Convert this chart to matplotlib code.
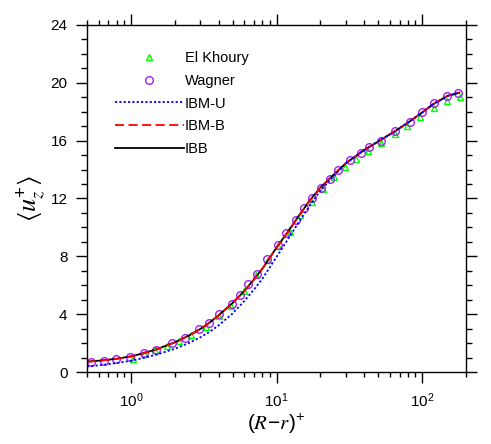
import numpy as np
import matplotlib
matplotlib.use('Agg')
import matplotlib.pyplot as plt
from matplotlib.ticker import LogLocator, MultipleLocator

plt.rcParams['font.family'] = ['Liberation Sans', 'DejaVu Sans']
plt.rcParams['mathtext.fontset'] = 'stix'
plt.rcParams['mathtext.default'] = 'regular'

# El Khoury et al. (DNS)
khoury_y = [1.04, 1.235, 1.47, 1.77, 2.15, 2.59, 3.29, 4.06, 4.84, 5.98, 7.27, 8.78, 10.25,
            12.36, 14.5, 17.4, 20.8, 24.9, 29.6, 35.1, 42.2, 52.4, 65.4, 78.8, 97.3, 120,
            148.5, 180.8]
khoury_u = [0.92, 1.27, 1.5, 1.78, 2.15, 2.53, 3.14, 3.88, 4.58, 5.59, 6.69, 7.73, 8.7,
            9.69, 10.85, 11.77, 12.65, 13.46, 14.15, 14.7, 15.26, 15.81, 16.45, 17.0, 17.65,
            18.27, 18.76, 19.03]

# Wagner et al.
wagner_y = [0.535, 0.655, 0.788, 0.984, 1.235, 1.49, 1.905, 2.37, 2.93, 3.43, 4.06, 4.92,
            5.58, 6.37, 7.39, 8.67, 10.2, 11.6, 13.6, 15.4, 17.4, 20.1, 23.2, 26.6, 32.0,
            37.9, 43.3, 52.4, 65.1, 82.1, 100, 120, 148.5, 177]
wagner_u = [0.69, 0.76, 0.90, 1.07, 1.32, 1.55, 2.0, 2.38, 2.95, 3.39, 4.04, 4.73, 5.31,
            6.07, 6.79, 7.8, 8.77, 9.62, 10.5, 11.31, 12.0, 12.72, 13.35, 14.0, 14.65, 15.16,
            15.57, 15.99, 16.68, 17.31, 17.96, 18.58, 19.1, 19.27]

# simulations
sim_y = [0.5, 0.6, 0.7, 0.8, 1.0, 1.2, 1.5, 2.0, 2.5, 3.0, 3.5, 4.0, 5.0, 6.0, 7.0, 8.0,
         10, 12, 14, 17, 20, 25, 30, 40, 50, 65, 80, 100, 120, 150, 180]
ibb_u = [0.72, 0.78, 0.85, 0.92, 1.08, 1.28, 1.57, 2.05, 2.52, 2.98, 3.45, 3.92, 4.78, 5.6,
         6.4, 7.15, 8.6, 9.72, 10.7, 11.9, 12.75, 13.7, 14.45, 15.35, 15.95, 16.65, 17.25,
         17.95, 18.55, 19.1, 19.32]
ibmb_u = [0.70, 0.77, 0.84, 0.91, 1.07, 1.27, 1.56, 2.04, 2.5, 2.96, 3.43, 3.9, 4.76, 5.58,
          6.38, 7.13, 8.58, 9.7, 10.68, 11.88, 12.74, 13.7, 14.45, 15.35, 15.95, 16.65,
          17.25, 17.95, 18.55, 19.1, 19.32]
ibmu_u = [0.38, 0.46, 0.54, 0.62, 0.78, 0.95, 1.2, 1.6, 2.0, 2.4, 2.8, 3.22, 4.05, 4.9,
          5.7, 6.45, 7.95, 9.2, 10.25, 11.55, 12.55, 13.6, 14.45, 15.35, 15.95, 16.65,
          17.25, 17.95, 18.55, 19.1, 19.32]

fig = plt.figure(figsize=(4.91, 4.44), dpi=100)
ax = fig.add_axes([87 / 491, 1 - 372 / 444, 379 / 491, 347 / 444])

h1, = ax.plot(khoury_y, khoury_u, linestyle='none', marker='^', ms=5, mfc='none',
              mec='#00ff00', mew=1.0, label='El Khoury')
h2, = ax.plot(wagner_y, wagner_u, linestyle='none', marker='o', ms=5.5, mfc='none',
              mec='#a020f0', mew=1.0, label='Wagner')
h5, = ax.plot(sim_y, ibb_u, color='black', lw=1.3, label='IBB')
h4, = ax.plot(sim_y, ibmb_u, color='red', lw=1.3, ls=(0, (5, 2.5)), label='IBM-B')
h3, = ax.plot(sim_y, ibmu_u, color='blue', lw=1.3, ls=(0, (1.2, 1.2)), label='IBM-U')

ax.set_xscale('log')
ax.set_xlim(0.5, 200)
ax.set_ylim(0, 24)
ax.yaxis.set_major_locator(MultipleLocator(4))
ax.yaxis.set_minor_locator(MultipleLocator(1))
ax.xaxis.set_major_locator(LogLocator(base=10, numticks=10))
ax.xaxis.set_minor_locator(LogLocator(base=10, subs=np.arange(2, 10), numticks=10))

ax.tick_params(which='both', direction='out', top=True, right=True, labelsize=11,
               width=1.0)
ax.tick_params(axis='x', which='major', length=8, pad=6)
ax.tick_params(axis='x', which='minor', length=3.5)
ax.tick_params(axis='y', which='major', length=8, pad=6)
ax.tick_params(axis='y', which='minor', length=4)
for sp in ax.spines.values():
    sp.set_linewidth(1.0)

ax.set_xlabel(r'$(\mathit{R}\!-\!\mathit{r})^{+}$', fontsize=15, labelpad=1)
ax.set_ylabel(r'$\langle \mathit{u}_{\mathit{z}}^{+}\rangle$', fontsize=19, labelpad=2)

ax.legend(handles=[h1, h2, h3, h4, h5], loc='upper left', bbox_to_anchor=(0.074, 0.925),
          frameon=False, fontsize=10.5, handlelength=4.7, handletextpad=0.1,
          labelspacing=0.6, borderpad=0, borderaxespad=0, numpoints=1)

fig.savefig('out.png', dpi=100)
